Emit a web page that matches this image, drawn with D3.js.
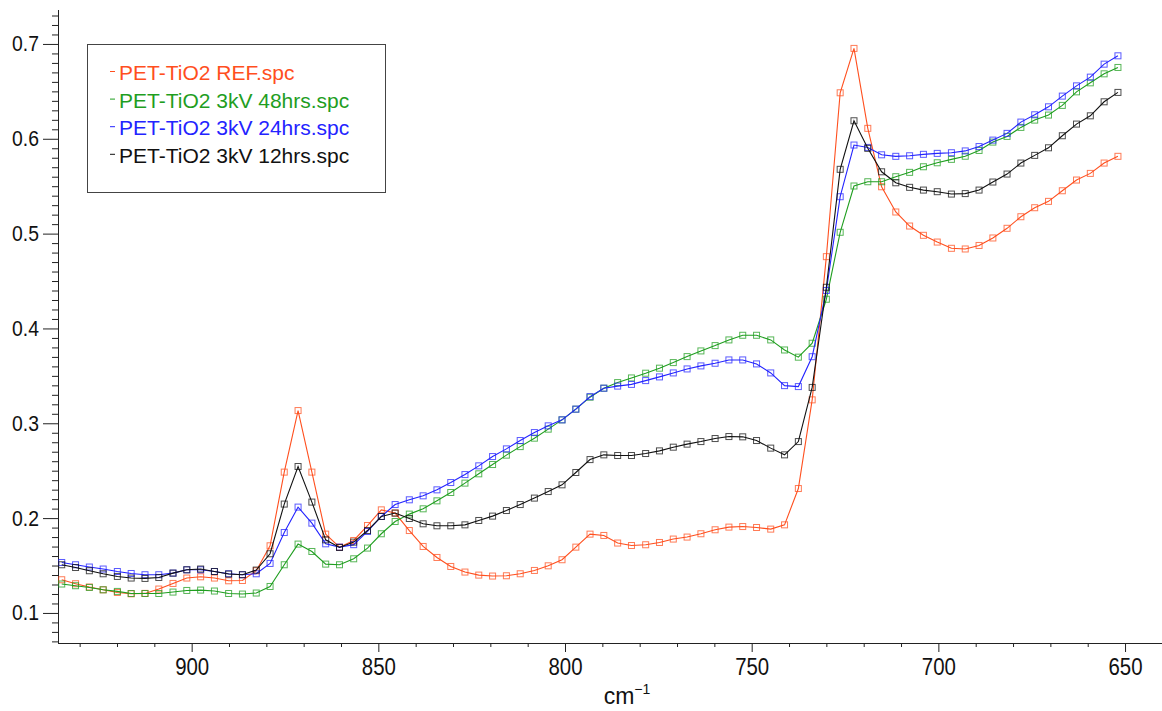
<!DOCTYPE html>
<html>
<head>
<meta charset="utf-8">
<script src="https://cdn.jsdelivr.net/npm/d3@7"></script>
<style>
  html, body { margin: 0; padding: 0; background: #fff; }
  svg { display: block; }
  text { font-family: "Liberation Sans", Arial, sans-serif; }
</style>
</head>
<body>
<svg id="chart" width="1162" height="711"></svg>
<script>
// Wavenumbers (cm-1) of the sampled points
const wavenumbers = [934.8, 931.1, 927.4, 923.7, 919.9, 916.2, 912.5, 908.8, 905.0, 901.3,
  897.6, 893.9, 890.1, 886.4, 882.7, 879.0, 875.2, 871.5, 867.8, 864.1,
  860.4, 856.6, 852.9, 849.2, 845.5, 841.7, 838.0, 834.3, 830.6, 826.8,
  823.1, 819.4, 815.7, 812.0, 808.2, 804.5, 800.8, 797.1, 793.3, 789.6,
  785.9, 782.2, 778.4, 774.7, 771.0, 767.3, 763.6, 759.8, 756.1, 752.4,
  748.7, 744.9, 741.2, 737.5, 733.8, 730.0, 726.3, 722.6, 718.9, 715.2,
  711.4, 707.7, 704.0, 700.3, 696.5, 692.8, 689.1, 685.4, 681.6, 677.9,
  674.2, 670.5, 666.8, 663.0, 659.3, 655.6, 651.9];

const refValues = [0.1350, 0.1308, 0.1273, 0.1244, 0.1216, 0.1202, 0.1206, 0.1252, 0.1311, 0.1368,
  0.1381, 0.1368, 0.1339, 0.1342, 0.1445, 0.1708, 0.2485, 0.3134, 0.2485, 0.1831,
  0.1694, 0.1764, 0.1922, 0.2087, 0.2053, 0.1869, 0.1701, 0.1585, 0.1490, 0.1431,
  0.1399, 0.1389, 0.1392, 0.1413, 0.1448, 0.1497, 0.1561, 0.1694, 0.1831, 0.1817,
  0.1737, 0.1711, 0.1719, 0.1743, 0.1779, 0.1800, 0.1835, 0.1877, 0.1905, 0.1911,
  0.1901, 0.1884, 0.1929, 0.2312, 0.3247, 0.4757, 0.6485, 0.6953, 0.6110, 0.5494,
  0.5228, 0.5080, 0.4982, 0.4911, 0.4845, 0.4838, 0.4875, 0.4954, 0.5056, 0.5178,
  0.5273, 0.5340, 0.5452, 0.5565, 0.5635, 0.5744, 0.5815];

const kv48Values = [0.1305, 0.1287, 0.1269, 0.1244, 0.1227, 0.1205, 0.1205, 0.1205, 0.1220, 0.1237,
  0.1241, 0.1231, 0.1205, 0.1199, 0.1210, 0.1279, 0.1508, 0.1726, 0.1648, 0.1515,
  0.1508, 0.1571, 0.1684, 0.1835, 0.1964, 0.2042, 0.2098, 0.2182, 0.2270, 0.2369,
  0.2467, 0.2565, 0.2664, 0.2754, 0.2843, 0.2938, 0.3036, 0.3149, 0.3275, 0.3370,
  0.3429, 0.3478, 0.3528, 0.3581, 0.3640, 0.3703, 0.3763, 0.3819, 0.3879, 0.3928,
  0.3928, 0.3879, 0.3773, 0.3697, 0.3844, 0.4308, 0.5014, 0.5502, 0.5547, 0.5547,
  0.5600, 0.5646, 0.5705, 0.5747, 0.5783, 0.5816, 0.5877, 0.5965, 0.6025, 0.6120,
  0.6197, 0.6250, 0.6352, 0.6495, 0.6590, 0.6685, 0.6752];

const kv24Values = [0.1532, 0.1508, 0.1484, 0.1463, 0.1437, 0.1416, 0.1403, 0.1403, 0.1420, 0.1455,
  0.1455, 0.1437, 0.1413, 0.1403, 0.1413, 0.1522, 0.1848, 0.2116, 0.1947, 0.1729,
  0.1694, 0.1720, 0.1859, 0.2017, 0.2143, 0.2193, 0.2235, 0.2298, 0.2375, 0.2459,
  0.2551, 0.2649, 0.2730, 0.2818, 0.2902, 0.2973, 0.3036, 0.3149, 0.3281, 0.3370,
  0.3392, 0.3410, 0.3450, 0.3489, 0.3531, 0.3573, 0.3605, 0.3633, 0.3668, 0.3668,
  0.3626, 0.3531, 0.3397, 0.3387, 0.3702, 0.4400, 0.5389, 0.5934, 0.5909, 0.5831,
  0.5815, 0.5821, 0.5836, 0.5846, 0.5853, 0.5872, 0.5918, 0.5986, 0.6057, 0.6176,
  0.6253, 0.6337, 0.6450, 0.6558, 0.6650, 0.6787, 0.6875];

const kv12Values = [0.1508, 0.1479, 0.1445, 0.1413, 0.1385, 0.1368, 0.1364, 0.1374, 0.1420, 0.1455,
  0.1463, 0.1437, 0.1410, 0.1403, 0.1452, 0.1624, 0.2148, 0.2544, 0.2169, 0.1771,
  0.1690, 0.1747, 0.1869, 0.2017, 0.2053, 0.1996, 0.1940, 0.1919, 0.1919, 0.1929,
  0.1975, 0.2021, 0.2080, 0.2143, 0.2211, 0.2280, 0.2351, 0.2481, 0.2617, 0.2667,
  0.2660, 0.2660, 0.2681, 0.2709, 0.2748, 0.2780, 0.2807, 0.2839, 0.2860, 0.2857,
  0.2818, 0.2738, 0.2667, 0.2807, 0.3378, 0.4434, 0.5678, 0.6190, 0.5899, 0.5652,
  0.5536, 0.5488, 0.5459, 0.5442, 0.5417, 0.5422, 0.5459, 0.5544, 0.5628, 0.5744,
  0.5825, 0.5905, 0.6032, 0.6155, 0.6242, 0.6390, 0.6489];

const seriesNames = ["PET-TiO2 REF.spc", "PET-TiO2 3kV 48hrs.spc", "PET-TiO2 3kV 24hrs.spc", "PET-TiO2 3kV 12hrs.spc"];
const seriesColors = ["#ff4f1e", "#1f9e1f", "#2323ff", "#111111"];
const seriesValues = [refValues, kv48Values, kv24Values, kv12Values];

const xMajorTicks = [900, 850, 800, 750, 700, 650];
const yMajorTicks = [0.1, 0.2, 0.3, 0.4, 0.5, 0.6, 0.7];
const xMinorTicks = [930, 920, 910, 890, 880, 870, 860, 840, 830, 820, 810, 790, 780, 770, 760,
  740, 730, 720, 710, 690, 680, 670, 660];
const yMinorTicks = [0.07, 0.08, 0.09, 0.11, 0.12, 0.13, 0.14, 0.15, 0.16, 0.17, 0.18, 0.19,
  0.21, 0.22, 0.23, 0.24, 0.25, 0.26, 0.27, 0.28, 0.29, 0.31, 0.32, 0.33, 0.34, 0.35, 0.36, 0.37, 0.38, 0.39,
  0.41, 0.42, 0.43, 0.44, 0.45, 0.46, 0.47, 0.48, 0.49, 0.51, 0.52, 0.53, 0.54, 0.55, 0.56, 0.57, 0.58, 0.59,
  0.61, 0.62, 0.63, 0.64, 0.65, 0.66, 0.67, 0.68, 0.69, 0.71, 0.72, 0.73];
const xAxisTitle = "cm";
const xAxisTitleSup = "\u22121";

(function () {
const svg = d3.select("#chart");
const mLeft = 58, mRight = 1162, mTop = 10, mBottom = 643;

const x = d3.scaleLinear().domain([935.8, 640.1]).range([mLeft, mRight]);
const y = d3.scaleLinear().domain([0.0683, 0.7358]).range([mBottom, mTop]);

const axisColor = "#222";

// Axes
const gx = svg.append("g").attr("transform", `translate(0,${mBottom})`);
gx.call(d3.axisBottom(x).tickValues(xMinorTicks).tickSize(4).tickFormat("").tickSizeOuter(0));
const gx2 = svg.append("g").attr("transform", `translate(0,${mBottom})`);
gx2.call(d3.axisBottom(x).tickValues(xMajorTicks).tickSize(9).tickPadding(6).tickFormat(d3.format("d")).tickSizeOuter(0));
gx2.select(".domain").remove();
gx.select(".domain").attr("d", `M${mLeft},0.5H${mRight}`);
gx2.selectAll("text")
  .attr("font-size", 24)
  .attr("font-family", "Liberation Sans, Arial, sans-serif")
  .attr("fill", "#111")
  .attr("transform", "scale(0.85,1)");

const gy = svg.append("g").attr("transform", `translate(${mLeft},0)`);
gy.call(d3.axisLeft(y).tickValues(yMinorTicks).tickSize(6).tickFormat("").tickSizeOuter(0));
gy.select(".domain").attr("d", `M0.5,${mTop}V${mBottom + 0.5}`);
const gy2 = svg.append("g").attr("transform", `translate(${mLeft},0)`);
gy2.call(d3.axisLeft(y).tickValues(yMajorTicks).tickSize(15).tickPadding(4).tickFormat(d3.format(".1f")).tickSizeOuter(0));
gy2.select(".domain").remove();
const ySx = 0.88;
gy2.selectAll("text")
  .attr("font-size", 22)
  .attr("font-family", "Liberation Sans, Arial, sans-serif")
  .attr("fill", "#111")
  .attr("x", -19 / ySx)
  .attr("transform", `scale(${ySx},1)`);

svg.selectAll(".tick line").attr("stroke", axisColor);
svg.selectAll(".domain").attr("stroke", axisColor);

// Axis title
const title = svg.append("text")
  .attr("x", 627).attr("y", 704)
  .attr("text-anchor", "middle")
  .attr("font-size", 23)
  .attr("fill", "#111");
title.append("tspan").text(xAxisTitle);
title.append("tspan").attr("font-size", 14).attr("dy", -10).text(xAxisTitleSup);

// Series
const line = d3.line().x((d, i) => x(wavenumbers[i])).y(d => y(d));
const plot = svg.append("g");
seriesValues.forEach((vals, s) => {
  const g = plot.append("g");
  g.append("path")
    .attr("d", line(vals))
    .attr("fill", "none")
    .attr("stroke", seriesColors[s])
    .attr("stroke-width", 1.1);
  g.selectAll("rect")
    .data(vals)
    .join("rect")
    .attr("x", (d, i) => x(wavenumbers[i]) - 3)
    .attr("y", d => y(d) - 3)
    .attr("width", 6)
    .attr("height", 6)
    .attr("fill", "none")
    .attr("stroke", seriesColors[s])
    .attr("stroke-opacity", 0.75)
    .attr("stroke-width", 1);
});

// Legend
const lg = svg.append("g");
lg.append("rect")
  .attr("x", 87.5).attr("y", 44.5)
  .attr("width", 298).attr("height", 148)
  .attr("fill", "#fff")
  .attr("stroke", "#444")
  .attr("stroke-width", 1);
seriesNames.forEach((name, i) => {
  const by = 80 + i * 27.6;
  lg.append("line")
    .attr("x1", 110).attr("x2", 115)
    .attr("y1", by - 8.5).attr("y2", by - 8.5)
    .attr("stroke", seriesColors[i]).attr("stroke-width", 1);
  lg.append("text")
    .attr("x", 119).attr("y", by)
    .attr("font-size", 21)
    .attr("fill", seriesColors[i])
    .text(name);
});
})();
</script>
</body>
</html>
